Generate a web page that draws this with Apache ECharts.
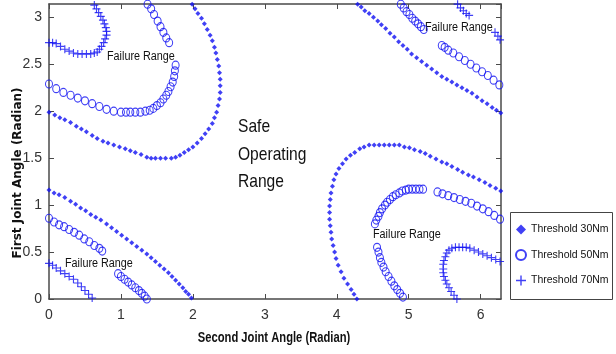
<!DOCTYPE html>
<html>
<head>
<meta charset="utf-8">
<script src="https://cdn.jsdelivr.net/npm/echarts@6/dist/echarts.min.js"></script>
<style>
  html, body { margin: 0; padding: 0; background: #fff; }
  #chart { width: 616px; height: 354px; }
</style>
</head>
<body>
<div id="chart"></div>
<script>
// Joint-angle limits (radians)
const X_MAX = 2 * Math.PI;
const Y_MAX = Math.PI;
const xTicks = [0, 1, 2, 3, 4, 5, 6];
const yTicks = [0, 0.5, 1, 1.5, 2, 2.5, 3];

const seriesNames = ['Threshold 30Nm', 'Threshold 50Nm', 'Threshold 70Nm'];

// Threshold 30Nm boundary, four branches: [second joint angle, first joint angle]
const t30UpperLeft = [[0.00,1.99],[0.08,1.96],[0.15,1.93],[0.22,1.91],[0.30,1.88],[0.38,1.84],[0.45,1.81],[0.52,1.78],[0.60,1.74],[0.67,1.71],[0.75,1.68],[0.82,1.66],[0.90,1.64],[0.98,1.62],[1.06,1.60],[1.13,1.58],[1.20,1.56],[1.28,1.54],[1.36,1.51],[1.42,1.50],[1.48,1.50],[1.55,1.50],[1.62,1.50],[1.70,1.50],[1.76,1.51],[1.82,1.53],[1.88,1.56],[1.94,1.59],[2.00,1.62],[2.06,1.66],[2.12,1.71],[2.17,1.76],[2.22,1.81],[2.27,1.87],[2.30,1.93],[2.33,1.99],[2.35,2.06],[2.37,2.13],[2.38,2.20],[2.38,2.27],[2.38,2.34],[2.37,2.41],[2.36,2.48],[2.34,2.55],[2.32,2.62],[2.30,2.68],[2.27,2.75],[2.24,2.81],[2.20,2.87],[2.16,2.93],[2.12,2.99],[2.07,3.04],[2.03,3.09],[1.99,3.14]];
const t30LowerLeft = [[0.00,1.16],[0.07,1.13],[0.14,1.11],[0.22,1.08],[0.30,1.04],[0.37,1.01],[0.44,0.97],[0.51,0.94],[0.58,0.90],[0.65,0.87],[0.72,0.84],[0.80,0.80],[0.87,0.76],[0.94,0.72],[1.01,0.68],[1.08,0.64],[1.15,0.60],[1.22,0.56],[1.29,0.52],[1.36,0.48],[1.42,0.44],[1.48,0.40],[1.54,0.36],[1.60,0.32],[1.66,0.28],[1.71,0.24],[1.76,0.20],[1.81,0.16],[1.86,0.12],[1.90,0.08],[1.94,0.05],[1.98,0.01]];
const t30UpperRight = [[4.29,3.14],[4.34,3.11],[4.39,3.07],[4.45,3.04],[4.51,3.00],[4.57,2.96],[4.62,2.92],[4.68,2.88],[4.74,2.83],[4.80,2.79],[4.86,2.74],[4.92,2.70],[4.98,2.66],[5.04,2.61],[5.11,2.57],[5.18,2.53],[5.25,2.49],[5.32,2.45],[5.39,2.41],[5.46,2.37],[5.53,2.34],[5.60,2.31],[5.67,2.28],[5.74,2.25],[5.81,2.22],[5.88,2.19],[5.95,2.15],[6.02,2.11],[6.09,2.08],[6.16,2.04],[6.22,2.01],[6.28,1.98]];
const t30LowerRight = [[4.28,0.00],[4.24,0.05],[4.20,0.10],[4.15,0.16],[4.10,0.22],[4.06,0.29],[4.02,0.36],[3.99,0.43],[3.97,0.50],[3.95,0.57],[3.93,0.64],[3.92,0.71],[3.91,0.78],[3.90,0.85],[3.90,0.92],[3.90,0.99],[3.91,1.06],[3.92,1.13],[3.94,1.20],[3.96,1.27],[3.99,1.33],[4.03,1.39],[4.08,1.44],[4.13,1.49],[4.19,1.53],[4.25,1.56],[4.32,1.60],[4.38,1.62],[4.45,1.64],[4.52,1.64],[4.59,1.64],[4.66,1.64],[4.73,1.64],[4.80,1.64],[4.87,1.64],[4.94,1.62],[5.01,1.61],[5.08,1.59],[5.16,1.57],[5.23,1.55],[5.30,1.52],[5.38,1.49],[5.46,1.46],[5.53,1.44],[5.60,1.41],[5.68,1.38],[5.75,1.35],[5.83,1.32],[5.90,1.30],[5.98,1.27],[6.06,1.24],[6.13,1.21],[6.21,1.18],[6.28,1.15]];

// Threshold 50Nm boundary
const t50UpperLeft = [[0.00,2.29],[0.10,2.24],[0.20,2.20],[0.30,2.17],[0.40,2.14],[0.50,2.11],[0.60,2.08],[0.70,2.05],[0.80,2.02],[0.90,2.00],[1.00,1.99],[1.07,1.99],[1.13,1.99],[1.20,1.99],[1.27,1.99],[1.34,2.00],[1.40,2.01],[1.45,2.03],[1.50,2.06],[1.55,2.09],[1.59,2.13],[1.63,2.17],[1.66,2.21],[1.69,2.26],[1.72,2.31],[1.74,2.37],[1.75,2.43],[1.76,2.49],[1.67,2.73],[1.63,2.78],[1.59,2.84],[1.55,2.90],[1.51,2.96],[1.46,3.03],[1.42,3.09],[1.37,3.14]];
const t50LowerLeft = [[0.00,0.86],[0.07,0.82],[0.14,0.79],[0.21,0.77],[0.28,0.74],[0.35,0.71],[0.42,0.68],[0.49,0.64],[0.56,0.61],[0.63,0.57],[0.70,0.54],[0.74,0.51],[0.96,0.27],[1.00,0.24],[1.05,0.21],[1.10,0.18],[1.15,0.15],[1.20,0.12],[1.25,0.09],[1.29,0.06],[1.33,0.03],[1.36,0.00]];
const t50UpperRight = [[4.89,3.14],[4.93,3.10],[4.97,3.06],[5.01,3.03],[5.05,2.99],[5.09,2.96],[5.13,2.93],[5.17,2.90],[5.21,2.87],[5.46,2.70],[5.50,2.68],[5.55,2.65],[5.62,2.62],[5.70,2.58],[5.78,2.54],[5.86,2.50],[5.94,2.46],[6.02,2.42],[6.10,2.38],[6.18,2.33],[6.26,2.28]];
const t50LowerRight = [[6.27,0.85],[6.19,0.89],[6.11,0.93],[6.03,0.96],[5.95,0.99],[5.87,1.02],[5.79,1.04],[5.71,1.06],[5.63,1.08],[5.55,1.10],[5.47,1.12],[5.40,1.14],[5.20,1.17],[5.15,1.17],[5.10,1.17],[5.05,1.17],[5.00,1.17],[4.96,1.16],[4.91,1.15],[4.87,1.13],[4.82,1.11],[4.78,1.09],[4.74,1.06],[4.70,1.03],[4.67,1.00],[4.63,0.96],[4.60,0.92],[4.58,0.88],[4.55,0.84],[4.53,0.80],[4.56,0.55],[4.58,0.50],[4.60,0.44],[4.62,0.39],[4.65,0.34],[4.68,0.29],[4.72,0.24],[4.76,0.19],[4.80,0.14],[4.84,0.10],[4.88,0.06],[4.92,0.02]];

// Threshold 70Nm boundary
const t70UpperLeft = [[0.00,2.73],[0.05,2.73],[0.10,2.72],[0.16,2.69],[0.22,2.66],[0.28,2.64],[0.34,2.62],[0.40,2.61],[0.46,2.61],[0.52,2.61],[0.58,2.61],[0.63,2.62],[0.67,2.63],[0.70,2.66],[0.73,2.69],[0.76,2.73],[0.78,2.77],[0.80,2.81],[0.80,2.85],[0.79,2.89],[0.77,2.93],[0.75,2.97],[0.72,3.01],[0.69,3.05],[0.66,3.09],[0.63,3.13]];
const t70LowerLeft = [[0.00,0.38],[0.05,0.36],[0.10,0.33],[0.16,0.30],[0.22,0.27],[0.28,0.24],[0.34,0.21],[0.40,0.17],[0.45,0.13],[0.50,0.09],[0.55,0.05],[0.60,0.01]];
const t70UpperRight = [[5.68,3.14],[5.72,3.10],[5.76,3.07],[5.80,3.04],[5.84,3.02],[6.20,2.84],[6.24,2.80],[6.27,2.76]];
const t70LowerRight = [[6.27,0.40],[6.21,0.42],[6.15,0.44],[6.09,0.46],[6.03,0.48],[5.97,0.50],[5.91,0.52],[5.85,0.54],[5.80,0.55],[5.75,0.55],[5.70,0.55],[5.65,0.55],[5.60,0.54],[5.56,0.52],[5.53,0.49],[5.51,0.45],[5.49,0.41],[5.48,0.37],[5.48,0.32],[5.48,0.28],[5.49,0.24],[5.51,0.20],[5.53,0.16],[5.56,0.12],[5.59,0.08],[5.63,0.04],[5.67,0.00]];

const BLUE = '#1010f2';
const AXIS_COLOR = '#4a4a4a';
const SANS = "'Liberation Sans', Arial, sans-serif";
const PLUS = 'path://M0,4.3H10V5.7H0Z M4.3,0H5.7V10H4.3Z';

const chart = echarts.init(document.getElementById('chart'), null, { renderer: 'canvas' });

function valueAxis(pos, max, interval, extra) {
  return Object.assign({
    type: 'value',
    position: pos,
    min: 0,
    max: max,
    interval: interval,
    axisLine: { show: true, onZero: false, lineStyle: { color: AXIS_COLOR, width: 1.5 } },
    axisTick: { show: true, inside: true, length: 5, lineStyle: { color: AXIS_COLOR, width: 1 } },
    splitLine: { show: false },
    axisLabel: { show: false }
  }, extra || {});
}

const tickLabel = {
  show: true,
  showMaxLabel: false,
  color: '#333',
  fontFamily: SANS,
  fontSize: 14
};

// condensed-looking annotation text
function note(text, left, top, size, sx) {
  return {
    type: 'text', x: left, y: top, scaleX: sx, scaleY: 1,
    style: { text: text, font: size + 'px ' + SANS, fill: '#111', textAlign: 'left', textVerticalAlign: 'top' }
  };
}

const option = {
  backgroundColor: '#fff',
  animation: false,
  grid: { left: 49, right: 115, top: 4, bottom: 55, containLabel: false },
  xAxis: [
    valueAxis('bottom', X_MAX, 1, {
      axisLabel: Object.assign({ margin: 9, formatter: v => (xTicks.includes(v) ? String(v) : '') }, tickLabel)
    }),
    valueAxis('top', X_MAX, 1)
  ],
  yAxis: [
    valueAxis('left', Y_MAX, 0.5, {
      axisLabel: Object.assign({ margin: 7, formatter: v => (yTicks.includes(v) ? String(v) : '') }, tickLabel)
    }),
    valueAxis('right', Y_MAX, 0.5)
  ],
  legend: {
    orient: 'vertical',
    left: 510,
    top: 219,
    padding: 5,
    itemGap: 14,
    itemWidth: 10,
    itemHeight: 10,
    data: seriesNames,
    textStyle: { fontFamily: SANS, fontSize: 10.5, color: '#111' }
  },
  graphic: [
    { type: 'rect', left: 510, top: 212, shape: { width: 102, height: 87 }, style: { fill: '#fff', stroke: '#444', lineWidth: 1 }, z: -1 },
    // axis titles
    {
      type: 'text', x: 274, y: 338,
      style: { text: 'Second Joint Angle (Radian)', font: "bold 14px " + SANS, fill: '#111', textAlign: 'center', textVerticalAlign: 'middle' },
      scaleX: 0.8
    },
    {
      type: 'text', x: 18, y: 173, rotation: Math.PI / 2,
      style: { text: 'First Joint Angle (Radian)', font: "bold 12px 'DejaVu Sans', sans-serif", fill: '#111', textAlign: 'center', textVerticalAlign: 'middle' }
    },
    note('Safe', 238, 117, 19, 0.82),
    note('Operating', 238, 145, 19, 0.82),
    note('Range', 238, 172, 19, 0.82),
    note('Failure Range', 107, 51, 12, 0.9),
    note('Failure Range', 425, 22, 12, 0.9),
    note('Failure Range', 373, 229, 12, 0.9),
    note('Failure Range', 65, 258, 12, 0.9)
  ],
  series: [
    {
      name: seriesNames[0],
      type: 'scatter',
      symbol: 'diamond',
      symbolSize: [5, 5],
      itemStyle: { color: BLUE },
      data: [].concat(t30UpperLeft, t30LowerLeft, t30UpperRight, t30LowerRight)
    },
    {
      name: seriesNames[1],
      type: 'scatter',
      symbol: 'circle',
      symbolSize: [7, 8],
      itemStyle: { color: 'rgba(0,0,0,0)', borderColor: BLUE, borderWidth: 1.1 },
      data: [].concat(t50UpperLeft, t50LowerLeft, t50UpperRight, t50LowerRight)
    },
    {
      name: seriesNames[2],
      type: 'scatter',
      symbol: PLUS,
      symbolSize: 8,
      itemStyle: { color: BLUE },
      data: [].concat(t70UpperLeft, t70LowerLeft, t70UpperRight, t70LowerRight)
    }
  ]
};

chart.setOption(option);
</script>
</body>
</html>
